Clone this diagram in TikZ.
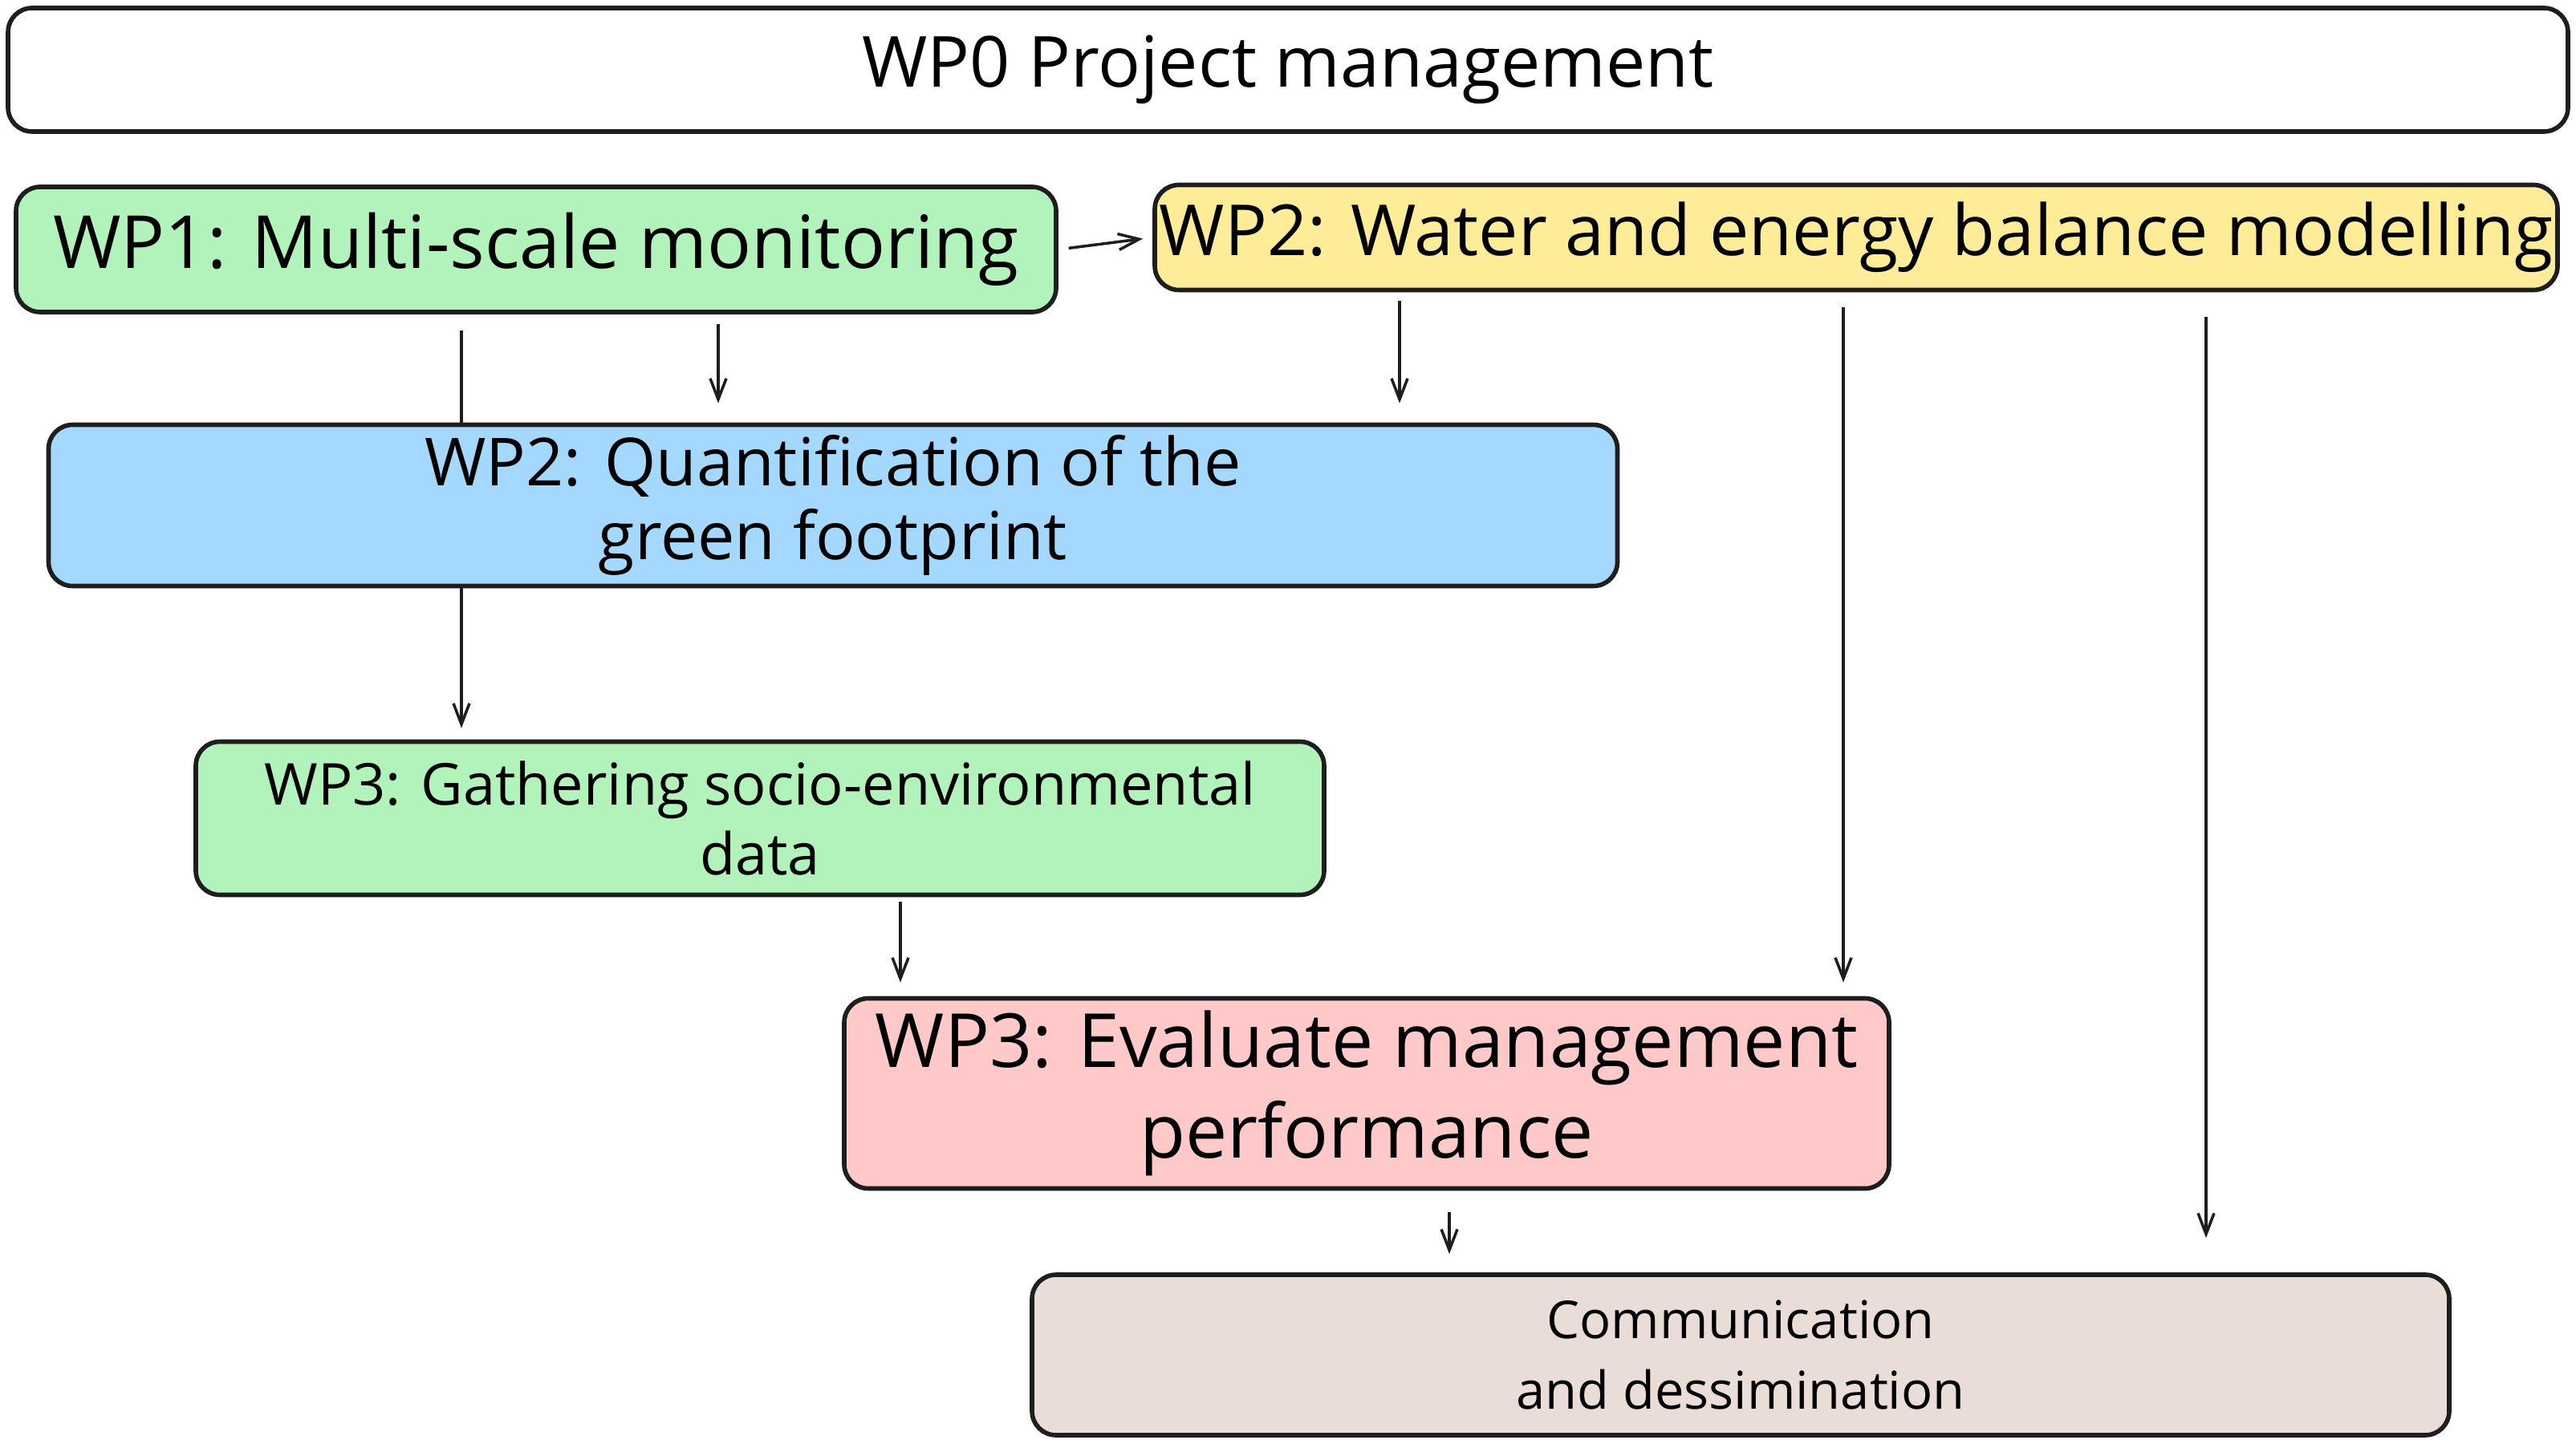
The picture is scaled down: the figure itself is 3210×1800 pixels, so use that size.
\documentclass[tikz,border=0pt]{standalone}
\usepackage{fontspec}
\setmainfont{Open Sans}
\usetikzlibrary{arrows.meta, backgrounds}
\definecolor{wpgreen}{HTML}{B2F2BB}
\definecolor{wpyellow}{HTML}{FFEC99}
\definecolor{wpblue}{HTML}{A5D8FF}
\definecolor{wppink}{HTML}{FFC9C9}
\definecolor{wpbrown}{HTML}{EADDD7}
\definecolor{ink}{HTML}{1E1E1E}
\tikzset{
  wp/.style={rectangle, draw=ink, line width=1.6pt, rounded corners=3mm,
             align=center, inner sep=0pt},
  arc/.style={-{Straight Barb[length=2.6mm, width=2mm]}, line width=1pt, ink}
}

\begin{document}
\begin{tikzpicture}[x=0.1mm, y=-0.1mm]
        \useasboundingbox (0,0) rectangle (3210,1800);
        \node[wp, fill=white, minimum width=319mm, minimum height=15.4mm,
              font=\fontsize{25}{30}\selectfont] (wp0) at (1605,87) {WP0 Project management};
        \node[wp, fill=wpgreen, minimum width=129.6mm, minimum height=15.6mm,
              font=\fontsize{26}{31}\selectfont] (wp1) at (668,311) {WP1: Multi-scale monitoring};
        \node[wp, fill=wpyellow, minimum width=174.8mm, minimum height=13.1mm,
              font=\fontsize{25}{30}\selectfont] (water) at (2313,296) {WP2: Water and energy balance modelling};
        \node[wp, fill=wpblue, minimum width=195.5mm, minimum height=20.1mm,
              font=\fontsize{23.5}{26}\selectfont] (quant) at (1038,630) {WP2: Quantification of the\\green footprint};
        \node[wp, fill=wpgreen, minimum width=140.6mm, minimum height=19.1mm,
              font=\fontsize{20.5}{25}\selectfont] (gather) at (947,1020) {WP3: Gathering socio-environmental\\data};
        \node[wp, fill=wppink, minimum width=130.2mm, minimum height=23.7mm,
              font=\fontsize{26.5}{32}\selectfont] (eval) at (1703,1363) {WP3: Evaluate management\\performance};
        \node[wp, fill=wpbrown, minimum width=176.6mm, minimum height=20mm,
              font=\fontsize{18.5}{25}\selectfont] (comm) at (2169,1689) {Communication\\and dessimination};
        % WP1 runs behind the quantification box down to WP3
        \begin{scope}[on background layer]
          \draw[arc, shorten <=2mm, shorten >=1.4mm] (wp1.south -| 575,0) -- (gather.north -| 575,0);
        \end{scope}
        \draw[arc, shorten <=1.3mm, shorten >=1.2mm] (wp1.east) -- (water.west);
        \foreach \s/\t/\x/\a/\b in {wp1/quant/895/1.2/2.4, water/quant/1744/1.1/2.4,
            water/eval/2297/1.9/1.7, water/comm/2749/3.1/4.3,
            gather/eval/1122/0.6/1.7, eval/comm/1806/2.7/2.3}
          \draw[arc, shorten <=\a mm, shorten >=\b mm] (\s.south -| \x,0) -- (\t.north -| \x,0);
      \end{tikzpicture}
\end{document}
